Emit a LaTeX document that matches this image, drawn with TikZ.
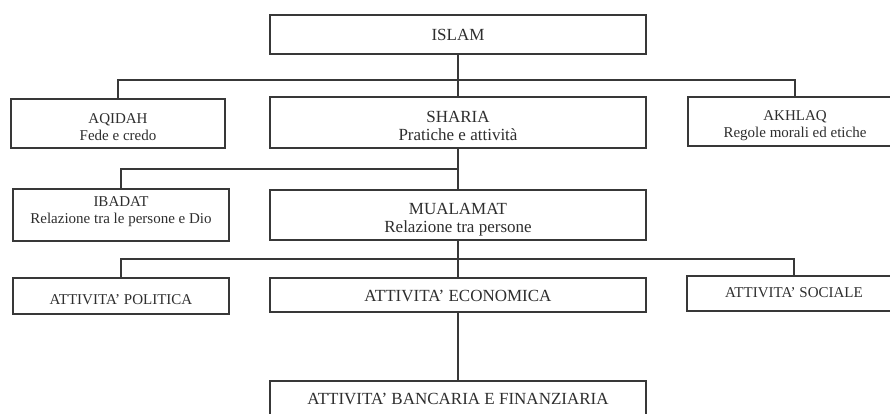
\documentclass[tikz,border=0pt]{standalone}
\usepackage{fontspec}
\setmainfont{Liberation Serif}
\begin{document}
\begin{tikzpicture}[x=1bp,y=-1bp,
  box/.style={draw=black!78, line width=1.4bp, rectangle, inner sep=0pt},
  bigtxt/.style={font=\fontsize{17bp}{18.5bp}\selectfont, align=center, text=black!82, inner sep=0pt},
  smalltxt/.style={font=\fontsize{15bp}{17bp}\selectfont, align=center, text=black!82, inner sep=0pt},
  link/.style={draw=black!78, line width=1.4bp}]
\useasboundingbox (0,0) rectangle (890,413);
\clip (0,0) rectangle (890,413);
\fill[white] (0,0) rectangle (890,413);

% level 0
\node[box, minimum width=376bp, minimum height=39bp,
  label={[bigtxt]center:ISLAM}] (islam) at (458,34.5) {};

% level 1
\node[box, minimum width=214bp, minimum height=49bp,
  label={[smalltxt,yshift=-4bp]center:AQIDAH\\Fede e credo}] (aqidah) at (118,123.5) {};
\node[box, minimum width=376bp, minimum height=51bp,
  label={[bigtxt,yshift=-3.5bp]center:SHARIA\\Pratiche e attività}] (sharia) at (458,122.5) {};
\node[box, minimum width=214bp, minimum height=49bp,
  label={[smalltxt,yshift=-4.5bp]center:AKHLAQ\\Regole morali ed etiche}] (akhlaq) at (795,121.5) {};

% level 2
\node[box, minimum width=216bp, minimum height=52bp,
  label={[smalltxt,yshift=3bp]center:IBADAT\\Relazione tra le persone e Dio}] (ibadat) at (121,215) {};
\node[box, minimum width=376bp, minimum height=50bp,
  label={[bigtxt,yshift=-4.5bp]center:MUALAMAT\\Relazione tra persone}] (mualamat) at (458,215) {};

% level 3
\node[box, minimum width=216bp, minimum height=36bp,
  label={[smalltxt,yshift=-4bp]center:ATTIVITA' POLITICA}] (politica) at (121,296) {};
\node[box, minimum width=376bp, minimum height=34bp,
  label={[bigtxt,yshift=-1bp]center:ATTIVITA' ECONOMICA}] (economica) at (458,295) {};
\node[box, minimum width=214bp, minimum height=35bp,
  label={[smalltxt,yshift=1bp]center:ATTIVITA' SOCIALE}] (sociale) at (794,293.5) {};

% level 4
\node[box, minimum width=376bp, minimum height=34bp,
  label={[bigtxt,yshift=-1bp]center:ATTIVITA' BANCARIA E FINANZIARIA}] (bancaria) at (458,398) {};

% bus lines
\coordinate (bus1) at (458,80);
\coordinate (bus2) at (458,169);
\coordinate (bus3) at (458,259);

\path[link] (islam.south) -- (sharia.north);
\path[link] (aqidah.north) |- (bus1) -| (akhlaq.north);
\path[link] (sharia.south) -- (mualamat.north);
\path[link] (ibadat.north) |- (bus2);
\path[link] (mualamat.south) -- (economica.north);
\path[link] (politica.north) |- (bus3) -| (sociale.north);
\path[link] (economica.south) -- (bancaria.north);
\end{tikzpicture}
\end{document}
